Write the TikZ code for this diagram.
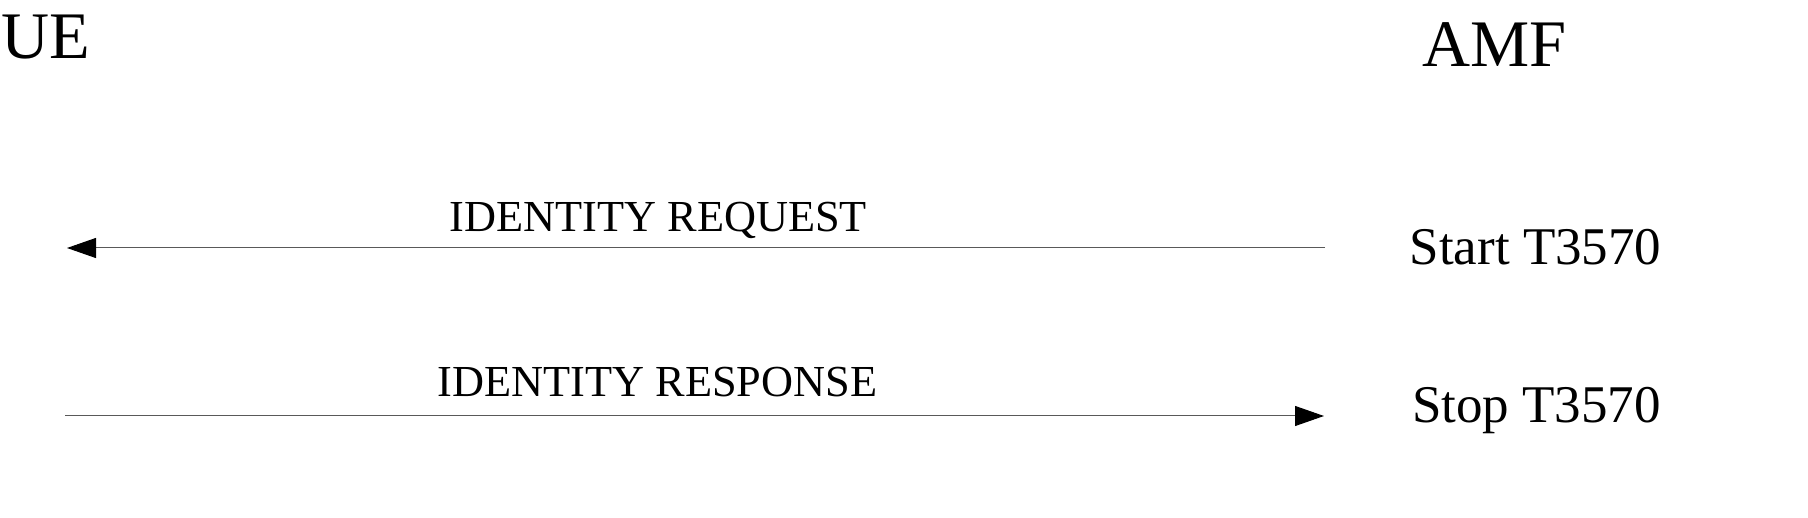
\documentclass[tikz,border=0pt]{standalone}
\usepackage{fontspec}
\setmainfont{Liberation Serif}
\usepackage{tikz}
\usetikzlibrary{positioning, arrows.meta}
\tikzstyle{entity} = [inner sep=0pt, anchor=base west, font=\fontsize{66.5}{70}\selectfont]
\tikzstyle{timer} = [inner sep=0pt, anchor=base, font=\fontsize{53}{56}\selectfont]
\tikzstyle{msg} = [inner sep=0pt, anchor=base, font=\fontsize{44.3}{47}\selectfont]
\tikzstyle{arrow} = [line width=1pt, draw=black!65, -{Triangle[length=29pt,width=20pt,color=black]}]
\begin{document}
\begin{tikzpicture}[x=1pt, y=-1pt]
\useasboundingbox (0,0) rectangle (1808,518);

\node (ue) [entity] at (1,59) {UE};
\node (amf) [entity] at (1422,67) {AMF};

\coordinate (reqfrom) at (1325,248);
\coordinate (reqto) at (67,248);
\coordinate (rspfrom) at (65,416);
\coordinate (rspto) at (1324,416);

\node (req) [msg] at (658.5,232) {IDENTITY REQUEST};
\node (rsp) [msg] at (657.5,397) {IDENTITY RESPONSE};
\node (start) [timer] at (1535.5,265) {Start T3570};
\node (stop) [timer] at (1536.5,423) {Stop T3570};

\draw [arrow] (reqfrom) -- (reqto);
\draw [arrow] (rspfrom) -- (rspto);

\end{tikzpicture}
\end{document}
